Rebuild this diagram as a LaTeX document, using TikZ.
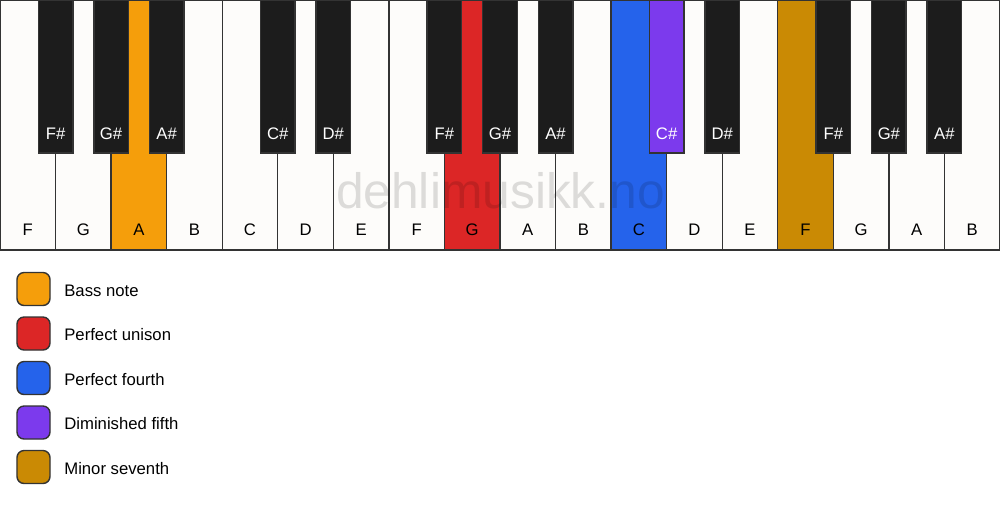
\documentclass[tikz,border=0pt]{standalone}
\usepackage{fontspec}
\setmainfont{Liberation Sans}
\usetikzlibrary{positioning}
\definecolor{keywhite}{HTML}{FDFCFA}
\definecolor{keyblack}{HTML}{1C1C1C}
\definecolor{keyline}{HTML}{333333}
\definecolor{bassorange}{HTML}{F59E0B}
\definecolor{unisonred}{HTML}{DC2626}
\definecolor{fourthblue}{HTML}{2563EB}
\definecolor{fifthpurple}{HTML}{7C3AED}
\definecolor{seventhgold}{HTML}{CA8A04}
\newcommand{\keyfont}{\fontsize{9.5}{11}\selectfont}

\begin{document}
\begin{tikzpicture}
[wkey/.style={rectangle, fill=keywhite, draw=keyline, line width=0.8pt, anchor=north west,
   outer sep=0pt, inner sep=0pt, minimum width=1.1111cm, text height=4.70cm, text depth=0.30cm, font=\keyfont},
 bkey/.style={rectangle, fill=keyblack, draw=keyline, line width=0.8pt, anchor=north,
   outer sep=0pt, inner sep=0pt, minimum width=0.69cm, text height=2.78cm, text depth=0.28cm, text=white, font=\keyfont},
 swatch/.style={rectangle, rounded corners=4pt, draw=keyline, line width=0.8pt, outer sep=0pt,
   inner sep=0pt, minimum size=0.66cm},
 legtext/.style={inner sep=0pt, yshift=-0.03cm, font=\keyfont},
 wmark/.style={anchor=base, inner sep=0pt, text=black, text opacity=0.13, font=\fontsize{28.3}{34}\selectfont}]
\path[fill=white, use as bounding box] (0,0) rectangle (20,-10.12);
% white keys
\node[wkey] (w1) at (0,0) {F};
\node[wkey, right=0pt of w1] (w2) {G};
\node[wkey, right=0pt of w2, fill=bassorange] (w3) {A}; % bass
\node[wkey, right=0pt of w3] (w4) {B};
\node[wkey, right=0pt of w4] (w5) {C};
\node[wkey, right=0pt of w5] (w6) {D};
\node[wkey, right=0pt of w6] (w7) {E};
\node[wkey, right=0pt of w7] (w8) {F};
\node[wkey, right=0pt of w8, fill=unisonred] (w9) {G}; % unison
\node[wkey, right=0pt of w9] (w10) {A};
\node[wkey, right=0pt of w10] (w11) {B};
\node[wkey, right=0pt of w11, fill=fourthblue] (w12) {C}; % fourth
\node[wkey, right=0pt of w12] (w13) {D};
\node[wkey, right=0pt of w13] (w14) {E};
\node[wkey, right=0pt of w14, fill=seventhgold] (w15) {F}; % seventh
\node[wkey, right=0pt of w15] (w16) {G};
\node[wkey, right=0pt of w16] (w17) {A};
\node[wkey, right=0pt of w17] (w18) {B};
% black keys
\node[bkey] (b1) at (w1.north east) {F\#};
\node[bkey] (b2) at (w2.north east) {G\#};
\node[bkey] (b3) at (w3.north east) {A\#};
\node[bkey] (b4) at (w5.north east) {C\#};
\node[bkey] (b5) at (w6.north east) {D\#};
\node[bkey] (b6) at (w8.north east) {F\#};
\node[bkey] (b7) at (w9.north east) {G\#};
\node[bkey] (b8) at (w10.north east) {A\#};
\node[bkey, fill=fifthpurple] (b9) at (w12.north east) {C\#}; % fifth
\node[bkey] (b10) at (w13.north east) {D\#};
\node[bkey] (b11) at (w15.north east) {F\#};
\node[bkey] (b12) at (w16.north east) {G\#};
\node[bkey] (b13) at (w17.north east) {A\#};
% legend:
\node[swatch, fill=bassorange] (sq1) at (0.67,-5.78) {};
\node[swatch, fill=unisonred, below=0.23cm of sq1] (sq2) {};
\node[swatch, fill=fourthblue, below=0.23cm of sq2] (sq3) {};
\node[swatch, fill=fifthpurple, below=0.23cm of sq3] (sq4) {};
\node[swatch, fill=seventhgold, below=0.23cm of sq4] (sq5) {};
\node[legtext, right=0.28cm of sq1] (t1) {Bass note};
\node[legtext, right=0.28cm of sq2] (t2) {Perfect unison};
\node[legtext, right=0.28cm of sq3] (t3) {Perfect fourth};
\node[legtext, right=0.28cm of sq4] (t4) {Diminished fifth};
\node[legtext, right=0.28cm of sq5] (t5) {Minor seventh};
% watermark
\node[wmark] (logo) at (10.01,-4.16) {dehlimusikk.no};
\end{tikzpicture}
\end{document}
